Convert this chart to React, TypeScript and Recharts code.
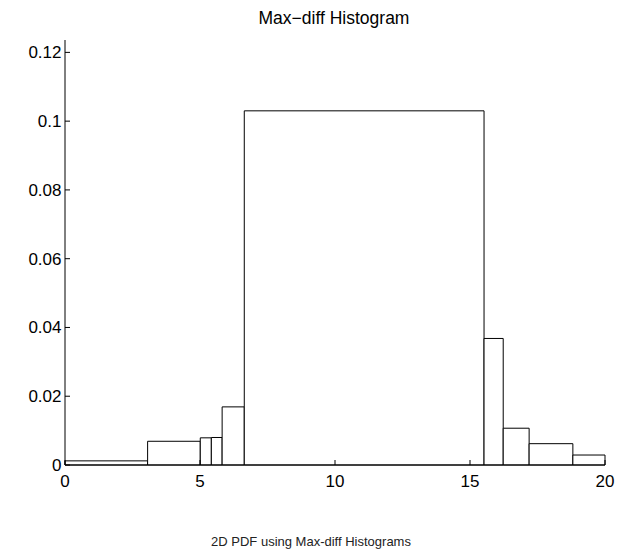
import { ComposedChart, Line, XAxis, YAxis, ReferenceArea } from 'recharts'

// variable-width bins
const binEdges = [0, 3.06, 5.01, 5.42, 5.82, 6.64, 15.52, 16.23, 17.19, 18.81, 20.0]
const binHeights = [0.0012, 0.0069, 0.0079, 0.008, 0.0169, 0.103, 0.0368, 0.0107, 0.0062, 0.0029]
const xTicks = [0, 5, 10, 15, 20]
const yTicks = [0, 0.02, 0.04, 0.06, 0.08, 0.1, 0.12]

const FONT = 'Liberation Sans, Arial, Helvetica, sans-serif'

const chartData = binHeights.map((h, i) => ({ x: binEdges[i], x2: binEdges[i + 1], h }))

function YTick(props: any) {
  const { x, y, payload } = props
  return (
    <g>
      <line x1={x + 4} y1={y} x2={x + 9} y2={y} stroke="#000" strokeWidth={1} />
      <text x={x + 0.5} y={y} dy={6} textAnchor="end" fontSize={17} fontFamily={FONT} fill="#000">
        {payload.value}
      </text>
    </g>
  )
}

function XTick(props: any) {
  const { x, y, payload } = props
  return (
    <g>
      <line x1={x} y1={y - 4} x2={x} y2={y - 9} stroke="#000" strokeWidth={1} />
      <text x={x} y={y} dy={18} textAnchor="middle" fontSize={17} fontFamily={FONT} fill="#000">
        {payload.value}
      </text>
    </g>
  )
}

export default function App() {
  return (
    <div style={{ position: 'absolute', left: 0, top: 0, width: 627, height: 556, background: '#fff' }}>
      <div
        style={{
          position: 'absolute', left: 334 - 150, width: 300, top: 8, textAlign: 'center',
          fontFamily: FONT, fontSize: 17.5, color: '#000', whiteSpace: 'nowrap',
        }}
      >
        Max−diff Histogram
      </div>
      <ComposedChart
        width={627}
        height={556}
        data={chartData}
        margin={{ top: 40, right: 22, left: 0, bottom: 61 }}
      >
        <XAxis
          dataKey="x"
          type="number"
          domain={[0, 20]}
          ticks={xTicks}
          allowDataOverflow
          height={30}
          axisLine={{ stroke: '#000' }}
          tickLine={false}
          tickSize={0}
          tickMargin={4}
          tick={<XTick />}
        />
        <YAxis
          type="number"
          domain={[0, 0.1236]}
          ticks={yTicks}
          allowDataOverflow
          width={65}
          axisLine={{ stroke: '#000' }}
          tickLine={false}
          tickSize={0}
          tickMargin={4}
          tick={<YTick />}
        />
        {chartData.map((b, i) => (
          <ReferenceArea
            key={i}
            x1={b.x}
            x2={b.x2}
            y1={0}
            y2={b.h}
            fill="#fff"
            fillOpacity={1}
            stroke="#000"
            strokeWidth={1}
            ifOverflow="visible"
          />
        ))}
        <Line dataKey="h" stroke="none" dot={false} isAnimationActive={false} legendType="none" />
      </ComposedChart>
      <div
        style={{
          position: 'absolute', left: 0, width: 622, top: 534, textAlign: 'center',
          fontFamily: FONT, fontSize: 13, color: '#222',
        }}
      >
        2D PDF using Max-diff Histograms
      </div>
    </div>
  )
}
